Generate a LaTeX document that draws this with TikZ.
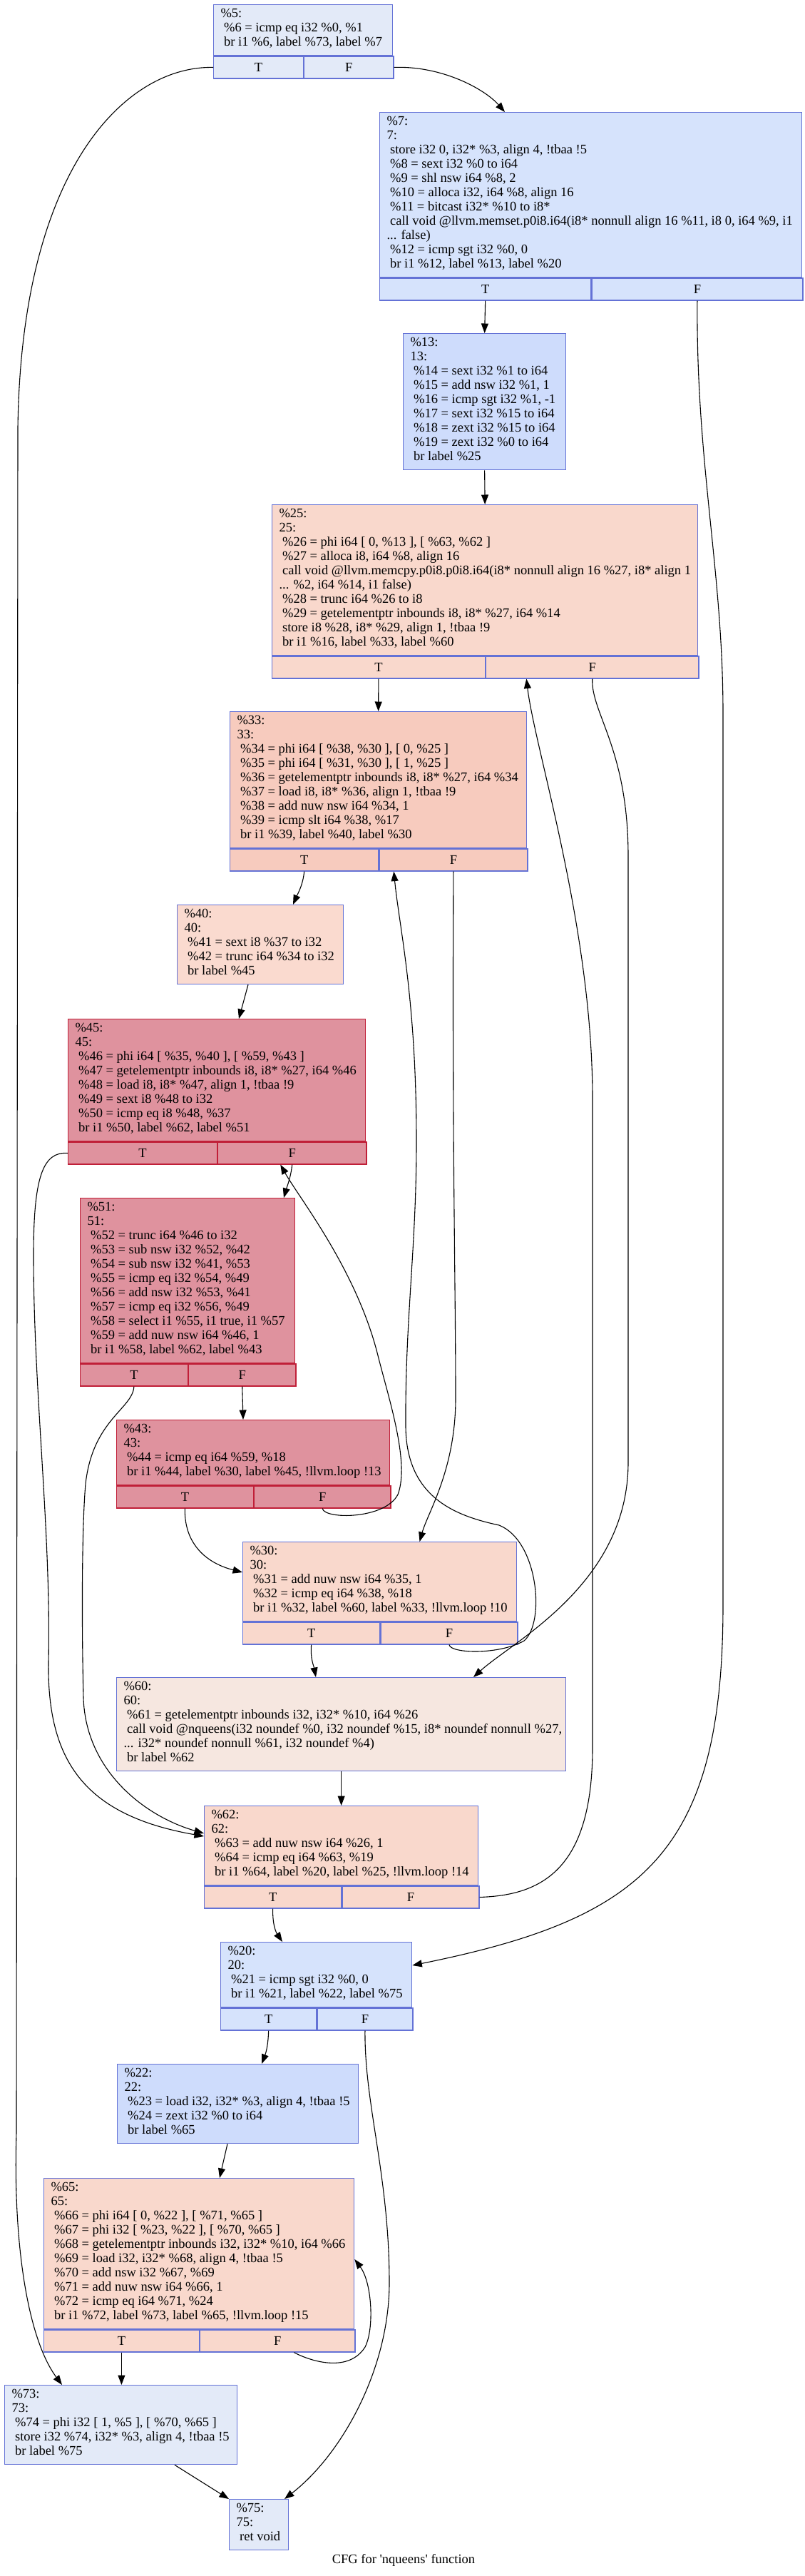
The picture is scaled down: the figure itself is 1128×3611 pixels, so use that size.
\documentclass[tikz,border=0pt]{standalone}
\usepackage{fontspec}
\setmainfont{Liberation Serif}[Ligatures=TeXOff]
\usepackage{tikz}
\usetikzlibrary{arrows.meta, positioning}
\newcommand{\ins}{\hspace*{4.6pt}}
\definecolor{bluedge}{HTML}{6472D6}
\definecolor{rededge}{HTML}{C01F38}
\definecolor{grayblue}{HTML}{E3EAF8}
\definecolor{paleblue}{HTML}{D6E3FC}
\definecolor{midblue}{HTML}{CEDCFC}
\definecolor{peach}{HTML}{F9D8CC}
\definecolor{darkpeach}{HTML}{F7CBBE}
\definecolor{lightpeach}{HTML}{FADACF}
\definecolor{hotpink}{HTML}{DF929E}
\definecolor{beige}{HTML}{F6E7E0}

\begin{document}
\begin{tikzpicture}[x=1pt, y=-1pt, >={Triangle[length=13.5pt,width=10pt]}, line width=1.1pt,
  blk/.style={draw=bluedge, line width=1.3pt, anchor=north west, inner sep=0pt},
  hot/.style={draw=rededge},
  cfont/.style={font=\fontsize{18.5}{20}\selectfont},
  code/.style={cfont, anchor=north west, align=left, inner xsep=10pt, inner ysep=5.5pt,
    execute at begin node=\strut, execute at end node=\strut},
  cell/.style={blk, cfont, minimum height=31pt}]
\useasboundingbox (0,0) rectangle (1128,3611);

% %5
\node[blk, fill=grayblue, minimum width=251, minimum height=71] (n5) at (299,6) {};
\node[code] (n5txt) at (n5.north west) {\%5:\\\ins\%6 = icmp eq i32 \%0, \%1\\\ins br i1 \%6, label \%73, label \%7};
\node[cell, fill=grayblue, minimum width=125.5] (n5T) at (n5.south west) {T};
\node[cell, fill=grayblue, minimum width=125.5, right=0pt of n5T] (n5F) {F};

% %7
\node[blk, fill=paleblue, minimum width=592, minimum height=231] (n7) at (532,157) {};
\node[code] (n7txt) at (n7.north west) {\%7:\\7:\\\ins store i32 0, i32* \%3, align 4, !tbaa !5\\\ins\%8 = sext i32 \%0 to i64\\\ins\%9 = shl nsw i64 \%8, 2\\\ins\%10 = alloca i32, i64 \%8, align 16\\\ins\%11 = bitcast i32* \%10 to i8*\\\ins call void @llvm.memset.p0i8.i64(i8* nonnull align 16 \%11, i8 0, i64 \%9, i1\\... false)\\\ins\%12 = icmp sgt i32 \%0, 0\\\ins br i1 \%12, label \%13, label \%20};
\node[cell, fill=paleblue, minimum width=296] (n7T) at (n7.south west) {T};
\node[cell, fill=paleblue, minimum width=296, right=0pt of n7T] (n7F) {F};

% %13
\node[blk, fill=midblue, minimum width=228, minimum height=191] (n13) at (565,467) {};
\node[code] (n13txt) at (n13.north west) {\%13:\\13:\\\ins\%14 = sext i32 \%1 to i64\\\ins\%15 = add nsw i32 \%1, 1\\\ins\%16 = icmp sgt i32 \%1, -1\\\ins\%17 = sext i32 \%15 to i64\\\ins\%18 = zext i32 \%15 to i64\\\ins\%19 = zext i32 \%0 to i64\\\ins br label \%25};

% %25
\node[blk, fill=peach, minimum width=597, minimum height=211] (n25) at (381,707) {};
\node[code] (n25txt) at (n25.north west) {\%25:\\25:\\\ins\%26 = phi i64 [ 0, \%13 ], [ \%63, \%62 ]\\\ins\%27 = alloca i8, i64 \%8, align 16\\\ins call void @llvm.memcpy.p0i8.p0i8.i64(i8* nonnull align 16 \%27, i8* align 1\\... \%2, i64 \%14, i1 false)\\\ins\%28 = trunc i64 \%26 to i8\\\ins\%29 = getelementptr inbounds i8, i8* \%27, i64 \%14\\\ins store i8 \%28, i8* \%29, align 1, !tbaa !9\\\ins br i1 \%16, label \%33, label \%60};
\node[cell, fill=peach, minimum width=298.5] (n25T) at (n25.south west) {T};
\node[cell, fill=peach, minimum width=298.5, right=0pt of n25T] (n25F) {F};

% %33
\node[blk, fill=darkpeach, minimum width=416, minimum height=191] (n33) at (322,997) {};
\node[code] (n33txt) at (n33.north west) {\%33:\\33:\\\ins\%34 = phi i64 [ \%38, \%30 ], [ 0, \%25 ]\\\ins\%35 = phi i64 [ \%31, \%30 ], [ 1, \%25 ]\\\ins\%36 = getelementptr inbounds i8, i8* \%27, i64 \%34\\\ins\%37 = load i8, i8* \%36, align 1, !tbaa !9\\\ins\%38 = add nuw nsw i64 \%34, 1\\\ins\%39 = icmp slt i64 \%38, \%17\\\ins br i1 \%39, label \%40, label \%30};
\node[cell, fill=darkpeach, minimum width=208] (n33T) at (n33.south west) {T};
\node[cell, fill=darkpeach, minimum width=208, right=0pt of n33T] (n33F) {F};

% %40
\node[blk, fill=lightpeach, minimum width=233, minimum height=111] (n40) at (248,1268) {};
\node[code] (n40txt) at (n40.north west) {\%40:\\40:\\\ins\%41 = sext i8 \%37 to i32\\\ins\%42 = trunc i64 \%34 to i32\\\ins br label \%45};

% %45
\node[blk, hot, fill=hotpink, minimum width=417, minimum height=171] (n45) at (95,1428) {};
\node[code] (n45txt) at (n45.north west) {\%45:\\45:\\\ins\%46 = phi i64 [ \%35, \%40 ], [ \%59, \%43 ]\\\ins\%47 = getelementptr inbounds i8, i8* \%27, i64 \%46\\\ins\%48 = load i8, i8* \%47, align 1, !tbaa !9\\\ins\%49 = sext i8 \%48 to i32\\\ins\%50 = icmp eq i8 \%48, \%37\\\ins br i1 \%50, label \%62, label \%51};
\node[cell, hot, fill=hotpink, minimum width=208.5] (n45T) at (n45.south west) {T};
\node[cell, hot, fill=hotpink, minimum width=208.5, right=0pt of n45T] (n45F) {F};

% %51
\node[blk, hot, fill=hotpink, minimum width=301, minimum height=231] (n51) at (112,1679) {};
\node[code] (n51txt) at (n51.north west) {\%51:\\51:\\\ins\%52 = trunc i64 \%46 to i32\\\ins\%53 = sub nsw i32 \%52, \%42\\\ins\%54 = sub nsw i32 \%41, \%53\\\ins\%55 = icmp eq i32 \%54, \%49\\\ins\%56 = add nsw i32 \%53, \%41\\\ins\%57 = icmp eq i32 \%56, \%49\\\ins\%58 = select i1 \%55, i1 true, i1 \%57\\\ins\%59 = add nuw nsw i64 \%46, 1\\\ins br i1 \%58, label \%62, label \%43};
\node[cell, hot, fill=hotpink, minimum width=150.5] (n51T) at (n51.south west) {T};
\node[cell, hot, fill=hotpink, minimum width=150.5, right=0pt of n51T] (n51F) {F};

% %43
\node[blk, hot, fill=hotpink, minimum width=383, minimum height=91] (n43) at (163,1990) {};
\node[code] (n43txt) at (n43.north west) {\%43:\\43:\\\ins\%44 = icmp eq i64 \%59, \%18\\\ins br i1 \%44, label \%30, label \%45, !llvm.loop !13};
\node[cell, hot, fill=hotpink, minimum width=191.5] (n43T) at (n43.south west) {T};
\node[cell, hot, fill=hotpink, minimum width=191.5, right=0pt of n43T] (n43F) {F};

% %30
\node[blk, fill=peach, minimum width=384, minimum height=111] (n30) at (340,2161) {};
\node[code] (n30txt) at (n30.north west) {\%30:\\30:\\\ins\%31 = add nuw nsw i64 \%35, 1\\\ins\%32 = icmp eq i64 \%38, \%18\\\ins br i1 \%32, label \%60, label \%33, !llvm.loop !10};
\node[cell, fill=peach, minimum width=192] (n30T) at (n30.south west) {T};
\node[cell, fill=peach, minimum width=192, right=0pt of n30T] (n30F) {F};

% %60
\node[blk, fill=beige, minimum width=630, minimum height=131] (n60) at (163,2351) {};
\node[code] (n60txt) at (n60.north west) {\%60:\\60:\\\ins\%61 = getelementptr inbounds i32, i32* \%10, i64 \%26\\\ins call void @nqueens(i32 noundef \%0, i32 noundef \%15, i8* noundef nonnull \%27,\\... i32* noundef nonnull \%61, i32 noundef \%4)\\\ins br label \%62};

% %62
\node[blk, fill=peach, minimum width=384, minimum height=111] (n62) at (286,2531) {};
\node[code] (n62txt) at (n62.north west) {\%62:\\62:\\\ins\%63 = add nuw nsw i64 \%26, 1\\\ins\%64 = icmp eq i64 \%63, \%19\\\ins br i1 \%64, label \%20, label \%25, !llvm.loop !14};
\node[cell, fill=peach, minimum width=192] (n62T) at (n62.south west) {T};
\node[cell, fill=peach, minimum width=192, right=0pt of n62T] (n62F) {F};

% %20
\node[blk, fill=paleblue, minimum width=268, minimum height=91] (n20) at (309,2722) {};
\node[code] (n20txt) at (n20.north west) {\%20:\\20:\\\ins\%21 = icmp sgt i32 \%0, 0\\\ins br i1 \%21, label \%22, label \%75};
\node[cell, fill=paleblue, minimum width=134] (n20T) at (n20.south west) {T};
\node[cell, fill=paleblue, minimum width=134, right=0pt of n20T] (n20F) {F};

% %22
\node[blk, fill=midblue, minimum width=338, minimum height=111] (n22) at (164,2893) {};
\node[code] (n22txt) at (n22.north west) {\%22:\\22:\\\ins\%23 = load i32, i32* \%3, align 4, !tbaa !5\\\ins\%24 = zext i32 \%0 to i64\\\ins br label \%65};

% %65
\node[blk, fill=peach, minimum width=435, minimum height=211] (n65) at (61,3053) {};
\node[code] (n65txt) at (n65.north west) {\%65:\\65:\\\ins\%66 = phi i64 [ 0, \%22 ], [ \%71, \%65 ]\\\ins\%67 = phi i32 [ \%23, \%22 ], [ \%70, \%65 ]\\\ins\%68 = getelementptr inbounds i32, i32* \%10, i64 \%66\\\ins\%69 = load i32, i32* \%68, align 4, !tbaa !5\\\ins\%70 = add nsw i32 \%67, \%69\\\ins\%71 = add nuw nsw i64 \%66, 1\\\ins\%72 = icmp eq i64 \%71, \%24\\\ins br i1 \%72, label \%73, label \%65, !llvm.loop !15};
\node[cell, fill=peach, minimum width=217.5] (n65T) at (n65.south west) {T};
\node[cell, fill=peach, minimum width=217.5, right=0pt of n65T] (n65F) {F};

% %73
\node[blk, fill=grayblue, minimum width=326, minimum height=111] (n73) at (6,3343) {};
\node[code] (n73txt) at (n73.north west) {\%73:\\73:\\\ins\%74 = phi i32 [ 1, \%5 ], [ \%70, \%65 ]\\\ins store i32 \%74, i32* \%3, align 4, !tbaa !5\\\ins br label \%75};

% %75
\node[blk, fill=grayblue, minimum width=83, minimum height=71] (n75) at (321,3503) {};
\node[code] (n75txt) at (n75.north west) {\%75:\\75:\\\ins ret void};

\node[cfont] (title) at (566,3589) {CFG for 'nqueens' function};

% edges
\draw[->] (n5T.west) .. controls (180,92) and (30,230) .. (25,600) -- (23,2990) .. controls (18,3150) and (40,3280) .. ([xshift=81pt]n73.north west);
\draw[->] (n5F.east) .. controls (620,92) and (680,125) .. ([xshift=176pt]n7.north west);
\draw[->] (n7T.south) -- (n13.north);
\draw[->] (n7F.south) .. controls (976,650) and (1014,800) .. (1014,1000) -- (1014,2250) .. controls (1014,2600) and (900,2690) .. ([yshift=-33pt]n20.north east);
\draw[->] (n13.south) -- (n25.north);
\draw[->] (n25T.south) -- (n33.north);
\draw[->] (n25F.south) .. controls (829,1000) and (881,1050) .. (881,1200) -- (881,2050) .. controls (881,2220) and (720,2300) .. ([xshift=501pt]n60.north west);
\draw[->] (n62F.east) .. controls (760,2657) and (831,2620) .. (831,2450) -- (831,1540) .. controls (831,1300) and (750,1050) .. ([xshift=57.5pt]n25F.south west);
\draw[->] (n33T.south) .. controls (425,1240) and (418,1252) .. ([xshift=163pt]n40.north west);
\draw[->] (n33F.south) .. controls (634,1600) and (639,1800) .. (639,1960) .. controls (639,2060) and (600,2120) .. ([xshift=248.5pt]n30.north west);
\draw[->] ([xshift=100pt]n40.south west) -- ([xshift=240pt]n45.north west);
\draw[->] (n45T.west) .. controls (60,1614) and (47,1650) .. (47,1760) .. controls (47,1950) and (72,2150) .. (68,2330) .. controls (66,2470) and (120,2545) .. ([yshift=-43pt]n62.north west);
\draw[->] (n51T.south) .. controls (186,1975) and (130,1990) .. (120,2080) .. controls (114,2150) and (115,2300) .. (117,2380) .. controls (120,2480) and (200,2545) .. ([yshift=-39pt]n62.north west);
\draw[->] (n45F.south) .. controls (408,1650) and (402,1665) .. ([xshift=286pt]n51.north west);
\draw[->] (n43F.south) .. controls (455,2130) and (540,2130) .. (558,2095) .. controls (575,2050) and (545,1960) .. (530,1900) .. controls (500,1780) and (420,1680) .. ([xshift=88.5pt]n45F.south west);
\draw[->] (n30F.south) .. controls (632,2318) and (700,2320) .. (735,2300) .. controls (765,2275) and (755,2160) .. (700,2138) .. controls (640,2125) and (570,2100) .. (569,2000) .. controls (568,1850) and (584,1750) .. (584,1600) .. controls (584,1400) and (560,1300) .. ([xshift=21pt]n33F.south west);
\draw[->] (n51F.south) -- ([xshift=178pt]n43.north west);
\draw[->] (n43T.south) .. controls (258,2160) and (285,2190) .. ([yshift=-43pt]n30.north west);
\draw[->] (n30T.south) .. controls (435,2325) and (440,2335) .. ([xshift=280pt]n60.north west);
\draw[->] (n60.south) -- (n62.north);
\draw[->] (n62T.south) .. controls (382,2700) and (388,2710) .. ([xshift=87pt]n20.north west);
\draw[->] (n20T.south) .. controls (376,2870) and (372,2880) .. ([xshift=203pt]n22.north west);
\draw[->] (n20F.south) .. controls (511,2950) and (546,3050) .. (546,3200) .. controls (546,3320) and (480,3440) .. ([xshift=78pt]n75.north west);
\draw[->] ([xshift=155pt]n22.south west) -- ([xshift=247pt]n65.north west);
\draw[->] (n65T.south) -- (n65T.south |- n73.north);
\draw[->] ([xshift=132.5pt]n65F.south west) .. controls (440,3312) and (490,3325) .. (512,3290) .. controls (525,3265) and (522,3200) .. ([yshift=-114pt]n65.north east);
\draw[->] ([xshift=239pt]n73.south west) -- (n75.north west);
\end{tikzpicture}
\end{document}
